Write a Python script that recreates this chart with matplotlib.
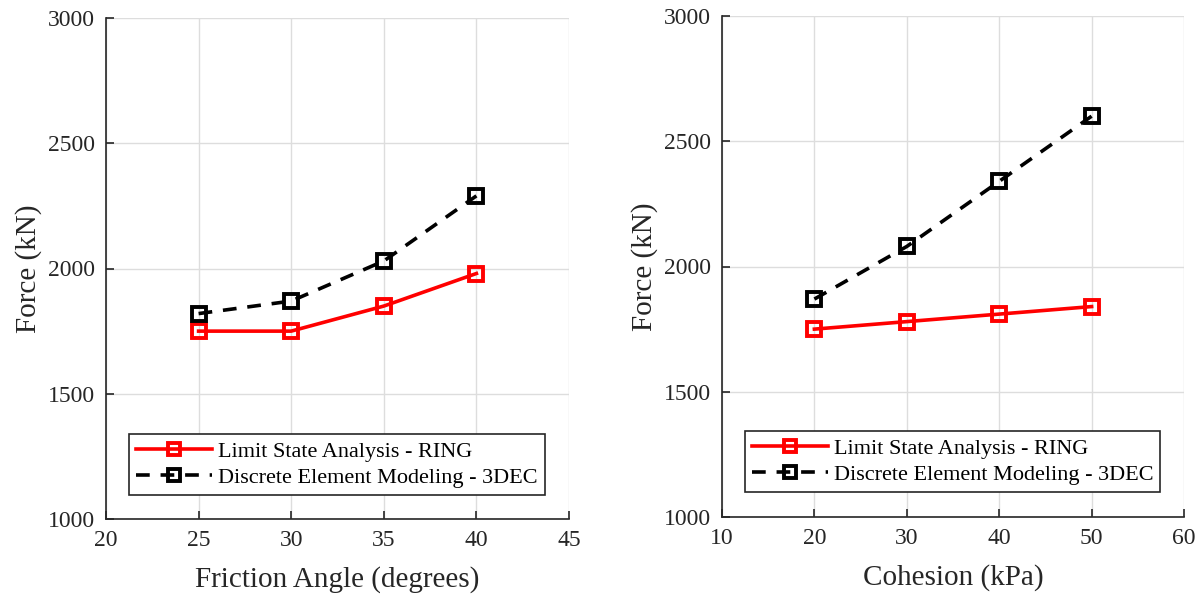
import matplotlib
matplotlib.use("Agg")
import matplotlib.pyplot as plt

friction = [25, 30, 35, 40]
ring_friction = [1750, 1750, 1850, 1980]
dem_friction = [1820, 1870, 2030, 2290]

cohesion = [20, 30, 40, 50]
ring_cohesion = [1750, 1780, 1810, 1840]
dem_cohesion = [1870, 2080, 2340, 2600]

lab_ring = "Limit State Analysis - RING"
lab_dem = "Discrete Element Modeling - 3DEC"

plt.rcParams['font.family'] = ['Liberation Serif', 'DejaVu Serif']

fig = plt.figure(figsize=(12.01, 5.94), dpi=100)
W, H = 1201, 594
ax1 = fig.add_axes([106 / W, 1 - 519 / H, (569 - 106) / W, (519 - 18) / H])
ax2 = fig.add_axes([722 / W, 1 - 517 / H, (1184 - 722) / W, (517 - 16) / H])

def style(ax, x, r, d, xlim, xticks, xlabel, legbox):
    ax.plot(x, r, color='red', lw=2.6, marker='s', ms=10.5, mfc='none', mew=2.8, label=lab_ring)
    ax.plot(x, d, color='black', lw=2.6, ls=(0, (3.8, 3.0)), marker='s', ms=10.5, mfc='none', mew=2.8, label=lab_dem)
    ax.set_xlim(*xlim)
    ax.set_xticks(xticks)
    ax.set_ylim(1000, 3000)
    ax.set_yticks([1000, 1500, 2000, 2500, 3000])
    ax.grid(True, color='#dddddd', lw=1)
    ax.set_axisbelow(True)
    for s in ['top', 'right']:
        ax.spines[s].set_visible(False)
    for s in ['left', 'bottom']:
        ax.spines[s].set_linewidth(1.2)
        ax.spines[s].set_color('#262626')
    ax.tick_params(direction='in', length=6, width=1.2, labelsize=17, colors='#262626', pad=8)
    ax.set_xlabel(xlabel, fontsize=21, color='#262626', labelpad=11)
    ax.set_ylabel('Force (kN)', fontsize=21, color='#262626', labelpad=4)
    leg = ax.legend(loc='lower left', bbox_to_anchor=legbox, mode='expand', fontsize=16,
                    frameon=True, fancybox=False, edgecolor='#262626', framealpha=1,
                    handlelength=3.4, handletextpad=0.3, borderpad=0.32, labelspacing=0.25,
                    borderaxespad=0, markerscale=0.8)
    leg.get_frame().set_linewidth(1.2)

style(ax1, friction, ring_friction, dem_friction, (20, 45), [20, 25, 30, 35, 40, 45],
      'Friction Angle (degrees)',
      ((129 - 106) / 463, (519 - 495) / 501, (545 - 129) / 463, (495 - 436) / 501))
style(ax2, cohesion, ring_cohesion, dem_cohesion, (10, 60), [10, 20, 30, 40, 50, 60],
      'Cohesion (kPa)',
      ((745 - 722) / 462, (517 - 492) / 501, (1160 - 745) / 462, (492 - 433) / 501))

fig.savefig('out.png', dpi=100)
